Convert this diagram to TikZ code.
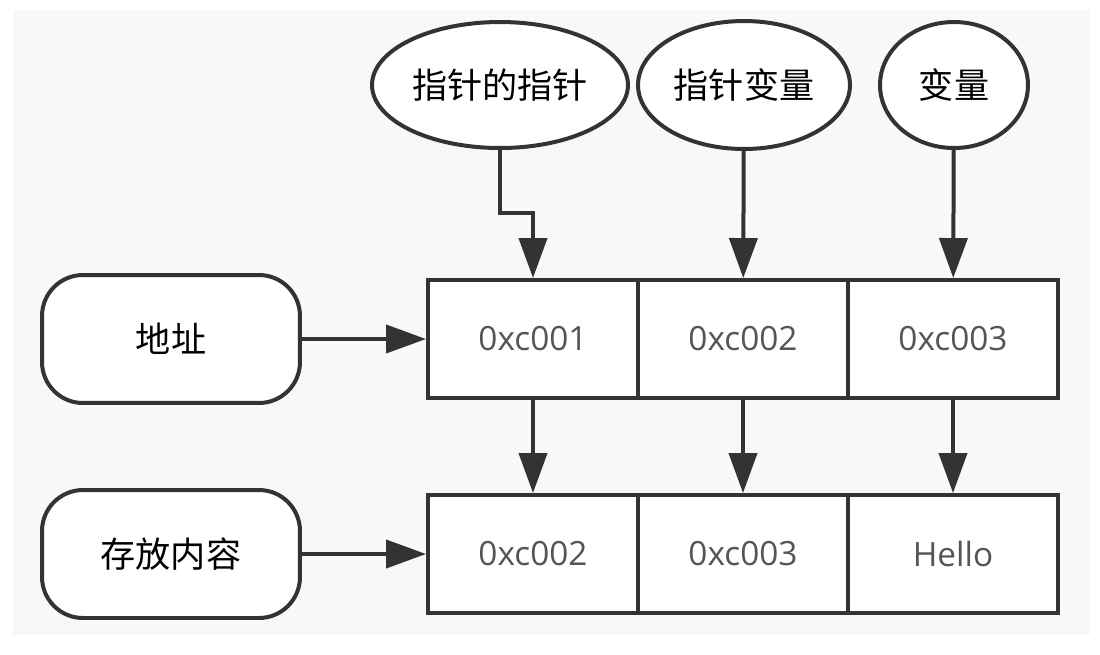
\documentclass[tikz,border=0pt]{standalone}
\usepackage{fontspec}
\setmainfont{Open Sans}
\newfontfamily\cjk{Noto Sans CJK SC}
\usetikzlibrary{arrows.meta,shapes.geometric}

\definecolor{linegray}{HTML}{333333}
\definecolor{textgray}{HTML}{555555}
\definecolor{bggray}{HTML}{F8F8F8}

\tikzset{
  oval/.style={ellipse, draw=linegray, fill=white, line width=0.08cm, inner sep=0pt,
    font=\cjk\fontsize{20}{24}\selectfont},
  tag/.style={rectangle, rounded corners=0.82cm, draw=linegray, fill=white, line width=0.08cm,
    minimum width=5.16cm, minimum height=2.56cm, font=\cjk\fontsize{20}{24}\selectfont},
  cell/.style={rectangle, draw=linegray, fill=white, line width=0.08cm,
    minimum width=4.2cm, minimum height=2.36cm, text=textgray, font=\fontsize{19}{23}\selectfont},
  arr/.style={draw=linegray, line width=0.08cm, -{Triangle[length=0.8cm,width=0.56cm]}}
}

\begin{document}
\begin{tikzpicture}[x=0.02cm, y=-0.02cm]
      %% \draw [help lines] (0,0) grid[step=50] (1100,654);
      \useasboundingbox (0,0) rectangle (1100,654);
      \fill [bggray] (13,10) rectangle (1090,635);

      \node [oval, minimum width=5.12cm, minimum height=2.52cm] (pp) at (500,85) {指针的指针};
      \node [oval, minimum width=4.24cm, minimum height=2.56cm] (pv) at (744,85) {指针变量};
      \node [oval, minimum width=2.96cm, minimum height=2.52cm] (var) at (954,85) {变量};

      \node [tag] (addr) at (171,339) {地址};
      \node [tag] (cont) at (171,554) {存放内容};

      \foreach \i/\a/\b in {1/0xc001/0xc002, 2/0xc002/0xc003, 3/0xc003/Hello}
      {
        \node [cell] (a\i) at (323+210*\i,339) {\a};
        \node [cell] (c\i) at (323+210*\i,554) {\b};
      }
      \foreach \i in {1,2,3} \draw [arr] (a\i) -- (c\i);

      \draw [arr] (addr) -- (a1);
      \draw [arr] (cont) -- (c1);

      \coordinate (bend) at (500,213);
      \draw [arr] (pp.south) -- (bend) -| (a1.north);
      \draw [arr] (pv) -- (a2);
      \draw [arr] (var) -- (a3);

   \end{tikzpicture}
\end{document}
